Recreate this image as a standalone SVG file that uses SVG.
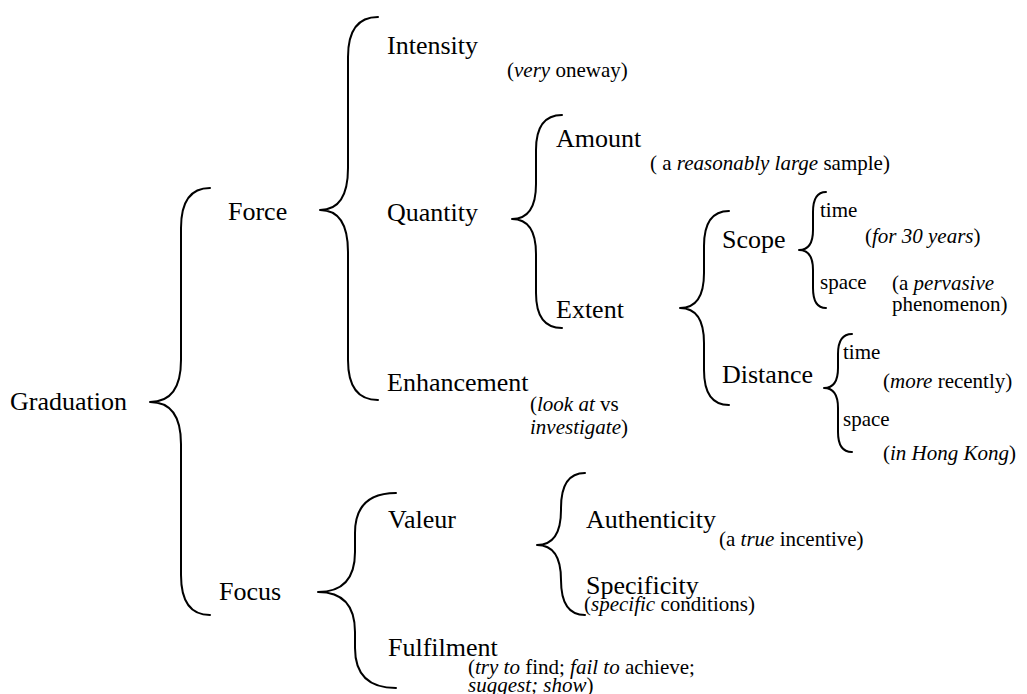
<svg xmlns="http://www.w3.org/2000/svg" width="1027" height="694" viewBox="0 0 1027 694">
<style>
text{font-family:'Liberation Serif','Times New Roman',serif;fill:#000}
.m{font-size:26px}
.s{font-size:21px}
.i{font-style:italic}
.b{fill:none;stroke:#000;stroke-width:2;stroke-linecap:round;stroke-linejoin:round}
</style>
<rect width="1027" height="694" fill="#fff"/>
<g id="connectors">
<path class="b" d="M210,188 Q181,188 181,228 L181,360 Q181,402 150,402 Q181,402 181,444 L181,575 Q181,615 210,615"/>
<path class="b" d="M378,17 Q348,17 348,57 L348,168 Q348,210 320,210 Q348,210 348,252 L348,360 Q348,400 378,400"/>
<path class="b" d="M562,115 Q536,115 536,150 L536,184 Q536,219 512,219 Q536,219 536,254 L536,293 Q536,328 562,328"/>
<path class="b" d="M729,211 Q704,211 704,246 L704,273 Q704,308 680,308 Q704,308 704,343 L704,370 Q704,405 729,405"/>
<path class="b" d="M826,192 Q813,192 813,212 L813,230 Q813,250 799,250 Q813,250 813,270 L813,288 Q813,308 826,308"/>
<path class="b" d="M852,334 Q838,334 838,354 L838,368 Q838,388 824,388 Q838,388 838,408 L838,432 Q838,452 852,452"/>
<path class="b" d="M396,493 Q355,493 355,533 L355,552 Q355,592 318,592 Q355,592 355,632 L355,648 Q355,688 396,688"/>
<path class="b" d="M585,473 Q561,473 561,508 L561,510 Q561,545 537,545 Q561,545 561,580 Q561,615 585,615"/>
</g>
<g id="graduation"><text class="m" x="10" y="410">Graduation</text></g>
<g id="force"><text class="m" x="228" y="220">Force</text></g>
<g id="focus"><text class="m" x="219" y="600">Focus</text></g>
<g id="intensity"><text class="m" x="387" y="54">Intensity</text><text class="s" x="507" y="77">(<tspan class="i">very</tspan> oneway)</text></g>
<g id="quantity"><text class="m" x="387" y="221">Quantity</text></g>
<g id="enhancement"><text class="m" x="387" y="391">Enhancement</text><text class="s" x="530" y="411">(<tspan class="i">look at</tspan> vs</text><text class="s i" x="530" y="434">investigate<tspan font-style="normal">)</tspan></text></g>
<g id="amount"><text class="m" x="556" y="147">Amount</text><text class="s" x="650" y="170">( a <tspan class="i">reasonably large</tspan> sample)</text></g>
<g id="extent"><text class="m" x="556" y="318">Extent</text></g>
<g id="scope"><text class="m" x="722" y="248">Scope</text></g>
<g id="scope-time"><text class="s" x="820" y="217">time</text><text class="s" x="865" y="243">(<tspan class="i">for 30 years</tspan>)</text></g>
<g id="scope-space"><text class="s" x="820" y="289">space</text><text class="s" x="892" y="290">(a <tspan class="i">pervasive</tspan></text><text class="s" x="892" y="311">phenomenon)</text></g>
<g id="distance"><text class="m" x="722" y="383">Distance</text></g>
<g id="distance-time"><text class="s" x="843" y="359">time</text><text class="s" x="883" y="388">(<tspan class="i">more</tspan> recently)</text></g>
<g id="distance-space"><text class="s" x="843" y="426">space</text><text class="s" x="883" y="460">(<tspan class="i">in Hong Kong</tspan>)</text></g>
<g id="valeur"><text class="m" x="388" y="528">Valeur</text></g>
<g id="authenticity"><text class="m" x="586" y="528">Authenticity</text><text class="s" x="719" y="546">(a <tspan class="i">true</tspan> incentive)</text></g>
<g id="specificity"><text class="m" x="586" y="594">Specificity</text><text class="s" x="584" y="611">(<tspan class="i">specific</tspan> conditions)</text></g>
<g id="fulfilment"><text class="m" x="388" y="656">Fulfilment</text><text class="s" x="468" y="674">(<tspan class="i">try to</tspan> find; <tspan class="i">fail to</tspan> achieve;</text><text class="s i" x="468" y="692">suggest; show<tspan font-style="normal">)</tspan></text></g>
</svg>
